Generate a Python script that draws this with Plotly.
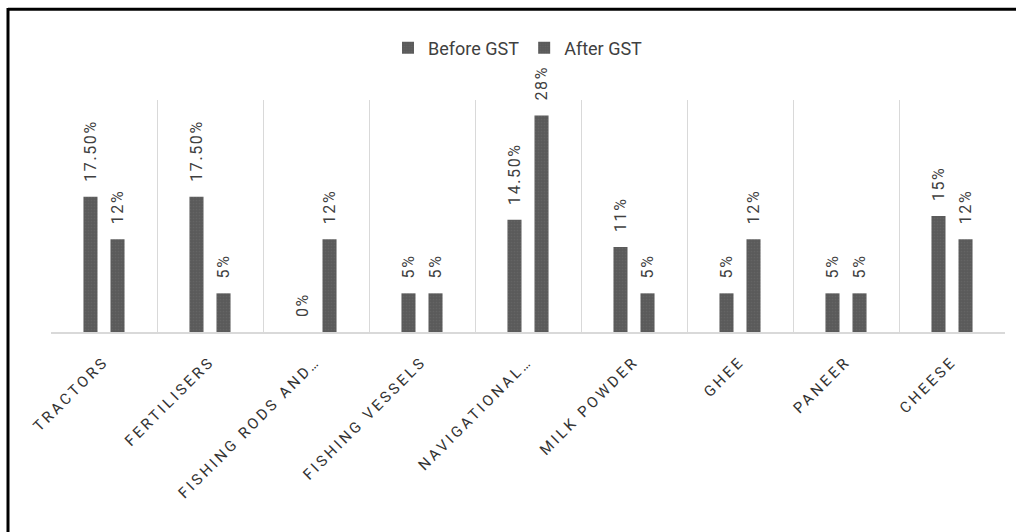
import plotly.graph_objects as go

categories = ["TRACTORS", "FERTILISERS", "FISHING RODS AND…", "FISHING VESSELS",
              "NAVIGATIONAL…", "MILK POWDER", "GHEE", "PANEER", "CHEESE"]
before_gst = [17.5, 17.5, 0, 5, 14.5, 11, 5, 5, 15]
after_gst = [12, 5, 12, 5, 28, 5, 12, 5, 12]
before_labels = ["17.50%", "17.50%", "0%", "5%", "14.50%", "11%", "5%", "5%", "15%"]
after_labels = ["12%", "5%", "12%", "5%", "28%", "5%", "12%", "5%", "12%"]

W, H = 1016, 532
L, R, T, B = 51, 11, 100, 200
PW, PH = W - L - R, H - T - B

def px(x):
    return (x - L) / PW

def py(y):
    return (H - B - y) / PH

LS_DATA = "letter-spacing:1.6px"
LS_TICK = "letter-spacing:3px"
GAP = "\u00a0\u00a0\u00a0"

def lab(s):
    return f'{GAP}<span style="{LS_DATA}">{s}</span>'

bar_color = "#5a5a5a"
pattern = dict(shape=".", fgcolor="#6e6e6e", bgcolor=bar_color, size=3, solidity=0.25)
label_font = dict(family="Roboto", size=16, color="#404040")

fig = go.Figure()
fig.add_trace(go.Bar(
    x=categories, y=before_gst, name="Before GST",
    text=[lab(s) for s in before_labels], textposition="outside", textangle=-90,
    textfont=label_font, constraintext="none", cliponaxis=False,
    marker=dict(color=bar_color, line=dict(width=0), pattern=pattern),
))
fig.add_trace(go.Bar(
    x=categories, y=after_gst, name="After GST",
    text=[lab(s) for s in after_labels], textposition="outside", textangle=-90,
    textfont=label_font, constraintext="none", cliponaxis=False,
    marker=dict(color=bar_color, line=dict(width=0), pattern=pattern),
))

fig.update_layout(
    width=W, height=H,
    margin=dict(l=L, r=R, t=T, b=B),
    paper_bgcolor="white", plot_bgcolor="white",
    barmode="group", bargap=0.49, bargroupgap=0.48,
    showlegend=True,
    legend=dict(orientation="h", x=px(518), xanchor="center", y=py(48), yanchor="middle",
                font=dict(family="Roboto", size=18, color="#404040"),
                itemwidth=30, traceorder="normal"),
    xaxis=dict(
        type="category", tickson="boundaries", showgrid=True,
        gridcolor="#d9d9d9", gridwidth=1.2,
        showline=True, linecolor="#d9d9d9", linewidth=1.5, mirror=False,
        ticks="", tickangle=-45, ticklabelstandoff=13,
        tickmode="array", tickvals=categories,
        ticktext=[f'<span style="{LS_TICK}">{c}</span>' for c in categories],
        tickfont=dict(family="Roboto", size=15, color="#333333"),
    ),
    yaxis=dict(range=[0, 30], showgrid=False, showticklabels=False, zeroline=False,
               showline=False, ticks=""),
    shapes=[
        dict(type="line", xref="paper", yref="paper", x0=px(8), x1=px(1016), y0=py(9.3), y1=py(9.3),
             line=dict(color="black", width=3)),
        dict(type="line", xref="paper", yref="paper", x0=px(8), x1=px(8), y0=py(8), y1=py(532),
             line=dict(color="black", width=3)),
    ],
)

fig.write_html("out.html")
